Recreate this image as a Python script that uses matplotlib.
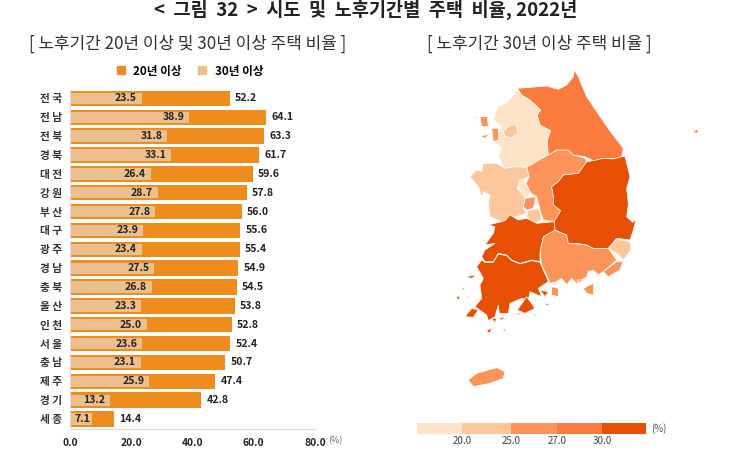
import numpy as np
import matplotlib as mpl
mpl.use('Agg')
import matplotlib.pyplot as plt
from matplotlib.patches import Patch, Polygon

mpl.rcParams['font.family'] = ['Noto Sans CJK KR', 'DejaVu Sans']

regions = ['전 국', '전 남', '전 북', '경 북', '대 전', '강 원', '부 산', '대 구', '광 주',
           '경 남', '충 북', '울 산', '인 천', '서 울', '충 남', '제 주', '경 기', '세 종']
over_20 = [52.2, 64.1, 63.3, 61.7, 59.6, 57.8, 56.0, 55.6, 55.4,
           54.9, 54.5, 53.8, 52.8, 52.4, 50.7, 47.4, 42.8, 14.4]
over_30 = [23.5, 38.9, 31.8, 33.1, 26.4, 28.7, 27.8, 23.9, 23.4,
           27.5, 26.8, 23.3, 25.0, 23.6, 23.1, 25.9, 13.2, 7.1]
x_ticks = [0, 20, 40, 60, 80]
map_ticks = ['20.0', '25.0', '27.0', '30.0']

# map colours, lightest to darkest
level_colours = ['#FDE4C8', '#FDC79C', '#FC9358', '#F97C3E', '#E75004']

# Outlines: x = 430 + a/3, y = 60 + b/3
gangwon = [(262, 85), (300, 82), (350, 78), (385, 88), (410, 75), (430, 50), (433, 30), (445, 50),
           (470, 110), (510, 170), (545, 220), (580, 265), (575, 290), (550, 297), (520, 295),
           (490, 302), (465, 290), (430, 285), (415, 270), (380, 270), (355, 285), (352, 240),
           (362, 212), (330, 195), (322, 165), (332, 150), (300, 120), (275, 105)]
ulleung = [(790, 213), (800, 209), (806, 215), (798, 220)]
gyeonggi = [(262, 90), (275, 105), (300, 120), (332, 150), (322, 165), (330, 195), (362, 212),
            (352, 240), (355, 285), (290, 322), (255, 320), (225, 325), (205, 290), (215, 265),
            (195, 245), (205, 220), (215, 200), (190, 180), (205, 140), (235, 125)]
seoul = [(220, 215), (240, 195), (258, 195), (265, 220), (245, 232), (225, 230)]
incheon = [(185, 205), (205, 205), (205, 240), (190, 245)]
incheon_isles = [[(150, 170), (172, 170), (175, 200), (155, 200)],
                 [(152, 228), (178, 222), (165, 235)],
                 [(130, 170), (145, 172), (135, 175)]]
chungnam = [(160, 310), (200, 310), (225, 325), (255, 320), (290, 322), (298, 350), (270, 360),
            (262, 385), (285, 410), (280, 445), (290, 460), (260, 470), (215, 485), (180, 470),
            (175, 430), (180, 405), (160, 395), (155, 410), (145, 380), (120, 350), (140, 330),
            (155, 335)]
geumsan = [(295, 452), (325, 445), (335, 480), (310, 492), (290, 470)]
sejong = [(262, 360), (280, 358), (303, 400), (285, 415), (265, 385)]
daejeon = [(285, 415), (318, 410), (310, 445), (290, 450), (280, 440)]
chungbuk = [(290, 322), (345, 290), (380, 270), (415, 270), (430, 285), (465, 295), (470, 305),
            (445, 340), (400, 345), (385, 365), (365, 380), (370, 410), (370, 435), (392, 452),
            (375, 485), (340, 480), (330, 450), (320, 410), (303, 400), (288, 370), (298, 350)]
gyeongbuk = [(470, 305), (490, 302), (520, 295), (550, 297), (575, 290), (585, 290), (600, 350),
             (590, 385), (595, 430), (590, 470), (608, 487), (618, 478), (610, 510), (600, 540),
             (560, 535), (535, 565), (490, 565), (470, 555), (440, 550), (415, 550), (410, 525),
             (375, 510), (372, 485), (392, 452), (370, 435), (370, 410), (365, 380), (385, 365),
             (400, 345), (445, 340)]
daegu = [(445, 550), (445, 525), (455, 505), (475, 485), (500, 490), (495, 525), (470, 540), (465, 555)]
ulsan = [(535, 565), (560, 538), (600, 545), (603, 570), (580, 600), (560, 580)]
busan = [(520, 635), (560, 605), (578, 605), (570, 630), (535, 650)]
gyeongnam = [(340, 530), (372, 510), (410, 525), (415, 550), (440, 552), (470, 555), (490, 565),
             (535, 565), (560, 600), (520, 635), (505, 645), (490, 630), (475, 635), (470, 650),
             (440, 670), (425, 655), (410, 675), (395, 655), (380, 665), (360, 670), (350, 645),
             (335, 615), (330, 575)]
gyeongnam_isles = [[(365, 680), (385, 685), (385, 710), (365, 705)],
                   [(460, 685), (490, 670), (490, 705), (470, 700)],
                   [(440, 660), (460, 660), (450, 668)]]
jeonbuk = [(175, 495), (225, 482), (240, 465), (265, 480), (290, 475), (320, 490), (372, 485),
           (375, 510), (340, 530), (330, 575), (330, 605), (305, 600), (270, 610), (245, 600),
           (230, 585), (205, 580), (190, 605), (165, 605), (155, 590), (165, 570), (195, 550),
           (165, 555), (190, 520), (195, 500)]
jeonnam = [(155, 600), (165, 607), (190, 607), (205, 582), (230, 587), (245, 602), (270, 612),
           (305, 602), (330, 607), (340, 630), (355, 665), (325, 685), (335, 710), (300, 695),
           (295, 720), (275, 715), (240, 730), (235, 760), (208, 760), (205, 735), (195, 770),
           (175, 782), (170, 765), (135, 740), (155, 715), (150, 675), (160, 655), (140, 620)]
jeonnam_isles = [[(105, 770), (125, 745), (145, 750), (130, 772)],
                 [(262, 750), (290, 710), (315, 745), (285, 760)],
                 [(330, 690), (355, 695), (345, 710)],
                 [(105, 650), (140, 645), (125, 655)],
                 [(78, 708), (90, 710), (85, 722)],
                 [(95, 683), (105, 685), (100, 690)],
                 [(108, 708), (118, 710), (112, 714)],
                 [(185, 775), (200, 775), (195, 788)],
                 [(205, 775), (228, 772), (215, 780)],
                 [(168, 812), (185, 805), (180, 820)],
                 [(218, 808), (228, 808), (223, 815)],
                 [(255, 762), (275, 758), (265, 765)],
                 [(345, 730), (358, 732), (352, 738)],
                 [(310, 762), (318, 764), (314, 770)]]
gwangju = [(187, 630), (210, 620), (235, 625), (245, 640), (225, 655), (200, 650), (187, 645)]
jeju = [(115, 960), (140, 940), (200, 923), (225, 935), (220, 955), (180, 970), (130, 980)]

map_parts = [(gyeonggi, 0), (sejong, 0), (seoul, 1), (chungnam, 1), (geumsan, 1), (daegu, 1),
             (ulsan, 1), (gwangju, 1), (incheon, 2), (daejeon, 2), (chungbuk, 2), (gyeongnam, 2),
             (busan, 2), (jeju, 2), (gangwon, 3), (ulleung, 3), (gyeongbuk, 4), (jeonbuk, 4),
             (jeonnam, 4)]
map_parts += [(p, 2) for p in incheon_isles + gyeongnam_isles]
map_parts += [(p, 4) for p in jeonnam_isles]

fig = plt.figure(figsize=(7.3, 4.69), dpi=100)

# whole figure axes in pixels, for the titles and the map
bg = fig.add_axes([0, 0, 1, 1])
bg.set_xlim(0, 730)
bg.set_ylim(469, 0)
bg.axis('off')

bg.text(366, 10, '<  그림  32  >  시도  및  노후기간별  주택  비율, 2022년', fontsize=13.4,
        fontweight='bold', ha='center', va='center', color='#222222')
bg.text(188, 44, '[ 노후기간 20년 이상 및 30년 이상 주택 비율 ]', fontsize=12.2,
        ha='center', va='center', color='#333333')
bg.text(539, 44, '[ 노후기간 30년 이상 주택 비율 ]', fontsize=12.2,
        ha='center', va='center', color='#333333')

for outline, level in map_parts:
    pts = np.array(outline) / 3 + [430, 60]
    bg.add_patch(Polygon(pts, closed=True, facecolor=level_colours[level],
                         edgecolor='#FFFFFF', linewidth=0.5))

# colour key under the map
key_edges = [417, 462, 511, 557, 602, 646]
for i, colour in enumerate(level_colours):
    bg.fill_between(key_edges[i:i + 2], 423, 434, color=colour, linewidth=0)
for edge, label in zip(key_edges[1:5], map_ticks):
    bg.text(edge, 441, label, fontsize=7, ha='center', va='center', color='#444444')
bg.text(659, 429, '(%)', fontsize=7, ha='center', va='center', color='#555555')

# bar chart
ax = fig.add_axes([70 / 730, 1 - 428.5 / 469, 245 / 730, 339.5 / 469])
ax.patch.set_alpha(0)
y = np.arange(len(regions))
ax.barh(y, over_20, height=0.82, color='#EE8C1E', edgecolor='none', label='20년 이상')
ax.barh(y, over_30, height=0.6, color='#EBBF8E', edgecolor='none', label='30년 이상')

for i in range(len(regions)):
    ax.text(over_20[i] + 1.7, i, '%.1f' % over_20[i], fontsize=7.6, fontweight='bold',
            ha='left', va='center', color='#222222')
    # the short 세종 bar has no room for the usual gap
    gap = 0.6 if over_30[i] < 10 else 1.6
    ax.text(over_30[i] - gap, i, '%.1f' % over_30[i], fontsize=7.6, fontweight='bold',
            ha='right', va='center', color='#222222')

ax.set_xlim(0, 80)
ax.set_ylim(len(regions) - 0.5, -0.5)
ax.set_yticks(y)
ax.set_yticklabels(regions, fontsize=7.7, fontweight='bold', color='#333333')
ax.set_xticks(x_ticks)
ax.set_xticklabels(['%.1f' % t for t in x_ticks], fontsize=7.4, fontweight='bold', color='#222222')
ax.tick_params(axis='both', length=0)
ax.tick_params(axis='x', pad=7)
ax.tick_params(axis='y', pad=6)
for side in ['top', 'right']:
    ax.spines[side].set_visible(False)
for side in ['left', 'bottom']:
    ax.spines[side].set_color('#DDDDDD')
    ax.spines[side].set_linewidth(0.8)

bg.text(335, 441, '(%)', fontsize=6.5, ha='center', va='center', color='#666666')

handles = [Patch(color='#EE8C1E', label='20년 이상'), Patch(color='#EBBF8E', label='30년 이상')]
leg = bg.legend(handles=handles, ncol=2, frameon=False, loc='center', bbox_to_anchor=(190 / 730, 1 - 71 / 469),
                bbox_transform=fig.transFigure, prop={'size': 8.4, 'weight': 'bold'},
                handlelength=0.7, handleheight=0.7, handletextpad=0.7, columnspacing=1.4)

fig.savefig('out.png', dpi=100)
plt.close(fig)
